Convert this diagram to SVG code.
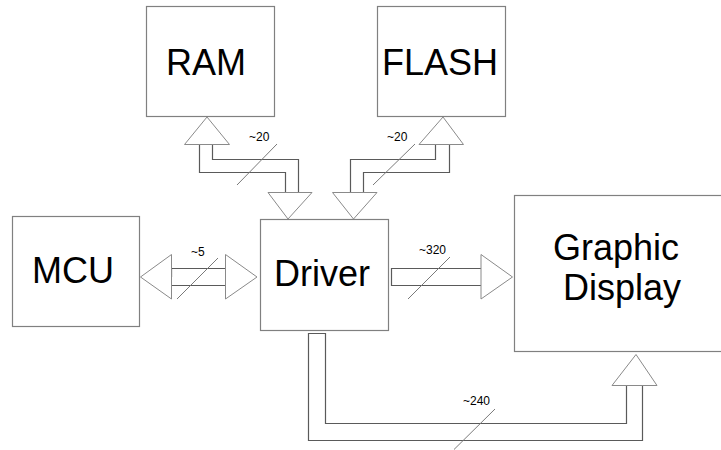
<svg xmlns="http://www.w3.org/2000/svg" width="721" height="450" viewBox="0 0 721 450">
  <style>
    .box { fill: #ffffff; stroke: #808080; stroke-width: 1.2; }
    .big { font-family: "Liberation Sans", Arial, sans-serif; font-size: 36px; fill: #000000; }
    .bus { fill: none; stroke: #5a5a5a; stroke-width: 1.2; }
    .head { fill: #ffffff; stroke: #8a8a8a; stroke-width: 1; }
    .slash { stroke: #7a7a7a; stroke-width: 1; }
    .lbl { font-family: "Liberation Sans", Arial, sans-serif; font-size: 12px; fill: #000000; }
  </style>
  <rect width="721" height="450" fill="#ffffff"/>

  <!-- blocks -->
  <g id="ram">
    <rect class="box" x="146.5" y="6.5" width="128" height="110"/>
    <text class="big" x="166" y="75">RAM</text>
  </g>
  <g id="flash">
    <rect class="box" x="377.5" y="6.5" width="128" height="110"/>
    <text class="big" x="382" y="75">FLASH</text>
  </g>
  <g id="mcu">
    <rect class="box" x="12.5" y="216.5" width="127" height="110"/>
    <text class="big" x="32" y="283">MCU</text>
  </g>
  <g id="driver">
    <rect class="box" x="260.5" y="219.5" width="128" height="111"/>
    <text class="big" x="274" y="286">Driver</text>
  </g>
  <g id="display">
    <rect class="box" x="514.5" y="195.5" width="220" height="156"/>
    <text class="big" x="553" y="260">Graphic</text>
    <text class="big" x="563" y="300">Display</text>
  </g>

  <!-- buses -->
  <g id="connectors">
    <!-- RAM <-> Driver -->
    <g id="bus-ram">
      <path class="bus" d="M199.5,144 V172.5 H285.5 V192"/>
      <path class="bus" d="M212.5,144 V159.5 H298.5 V192"/>
      <polygon class="head" points="207,117 184.5,144.5 229.5,144.5"/>
      <polygon class="head" points="268,192.5 312,192.5 288,219"/>
      <line class="slash" x1="237" y1="185" x2="277" y2="144"/>
      <text class="lbl" x="249" y="141">~20</text>
    </g>
    <!-- FLASH <-> Driver -->
    <g id="bus-flash">
      <path class="bus" d="M350.5,192 V159.5 H435.5 V144"/>
      <path class="bus" d="M363.5,192 V172.5 H449.5 V144"/>
      <polygon class="head" points="443,117 419,144.5 463.5,144.5"/>
      <polygon class="head" points="332.5,192.5 377,192.5 353.5,219"/>
      <line class="slash" x1="373" y1="185" x2="415" y2="144"/>
      <text class="lbl" x="387" y="141">~20</text>
    </g>
    <!-- MCU <-> Driver -->
    <g id="bus-mcu">
      <path class="bus" d="M171.5,268.5 H225 M171.5,285.5 H225"/>
      <line x1="171.5" y1="268" x2="171.5" y2="277" stroke="#222222" stroke-width="1.2"/>
      <polygon class="head" points="140.5,277 171.5,254.5 171.5,299"/>
      <polygon class="head" points="225.5,254.5 225.5,299 257,277"/>
      <line class="slash" x1="177" y1="299" x2="218" y2="258"/>
      <text class="lbl" x="191" y="256">~5</text>
    </g>
    <!-- Driver -> Display (side) -->
    <g id="bus-display">
      <path class="bus" d="M481,268.5 H391.5 V285.5 H481"/>
      <polygon class="head" points="481,254.5 481,299 512.5,277"/>
      <line class="slash" x1="408" y1="299" x2="450" y2="257"/>
      <text class="lbl" x="419" y="253.5">~320</text>
    </g>
    <!-- Driver -> Display (bottom) -->
    <g id="bus-display-low">
      <path class="bus" d="M626.5,385 V423.5 H325.5 V333.5 H308.5 V440.5 H642.5 V385"/>
      <polygon class="head" points="612,385.5 657,385.5 636,354.5"/>
      <line class="slash" x1="454" y1="449.5" x2="495" y2="409"/>
      <text class="lbl" x="463" y="405">~240</text>
    </g>
  </g>
</svg>
